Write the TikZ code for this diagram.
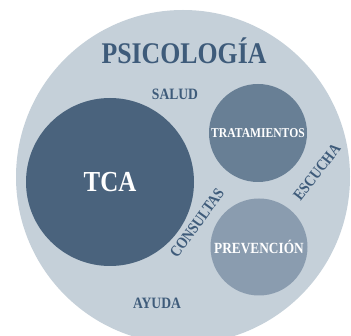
\documentclass[tikz,border=0pt]{standalone}
\usepackage{fontspec}
\setmainfont[FakeStretch=0.86]{Liberation Serif}
\definecolor{psicofill}{HTML}{C5D0D9}
\definecolor{tcafill}{HTML}{4A637D}
\definecolor{tratfill}{HTML}{687F95}
\definecolor{prevfill}{HTML}{8A9CAF}
\definecolor{wordcolor}{HTML}{3E5B7A}
\begin{document}
\begin{tikzpicture}[x=1pt,y=-1pt,
		bubble/.style={circle, inner sep=0pt, text=white},
		area/.style={bubble, fill=psicofill, minimum size=334pt},
		tca/.style={bubble, fill=tcafill, minimum size=168pt, font=\bfseries\fontsize{29}{29}\selectfont},
		trat/.style={bubble, fill=tratfill, minimum size=98pt, font=\bfseries\fontsize{13.5}{14}\selectfont},
		prev/.style={bubble, fill=prevfill, minimum size=97pt, font=\bfseries\fontsize{15.5}{16}\selectfont},
		title/.style={text=wordcolor, font=\bfseries\fontsize{30}{30}\selectfont},
		word/.style={text=wordcolor, inner sep=0pt, font=\bfseries\fontsize{15.8}{16}\selectfont}]
	\useasboundingbox (0,0) rectangle (351,336);
	\node [area] (psicologia) at (183,177) {};
	\node [tca] (tca) at (110,182) {TCA};
	\node [trat] (tratamientos) at (258,133) {TRATAMIENTOS};
	\node [prev] (prevencion) at (259,247) {PREVENCIÓN};
	\node [title] (titulo) at (184,51) {PSICOLOGÍA};
	\node [word] (salud) at (175,94) {SALUD};
	\node [word] (ayuda) at (157,303) {AYUDA};
	\node [word, rotate=54] (consultas) at (197,223) {CONSULTAS};
	\node [word, rotate=52] (escucha) at (317,172) {ESCUCHA};
\end{tikzpicture}
\end{document}
